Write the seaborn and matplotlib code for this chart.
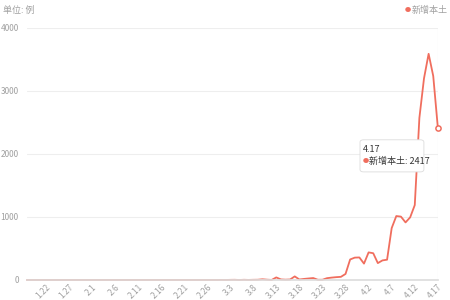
import matplotlib
matplotlib.use("Agg")
import matplotlib.pyplot as plt
import seaborn as sns
import pandas as pd
import datetime as dt
from matplotlib.patches import FancyBboxPatch

# Daily new local cases, 1.18 .. 4.17
values_jan = [0, 0, 0, 0, 0, 0, 0, 0, 0, 0, 0, 0, 0, 0]          # 1.18-1.31
values_feb = [0] * 28                                               # 2.1-2.28
values_mar = [1, 0, 2, 3, 0, 3, 1, 3, 4, 11, 5, 1, 41, 9, 5, 8, 57, 8,
              17, 24, 31, 4, 4, 29, 38, 45, 50, 96, 326, 355, 358]   # 3.1-3.31
values_apr = [260, 438, 425, 268, 311, 322, 824, 1015, 1006, 914, 994,
              1189, 2573, 3200, 3590, 3238, 2417]                   # 4.1-4.17
values = values_jan + values_feb + values_mar + values_apr

start = dt.date(2022, 1, 18)
dates = [start + dt.timedelta(days=i) for i in range(len(values))]
labels = [f"{d.month}.{d.day}" for d in dates]
series_name = "新增本土"
tick_every = 5
tick_offset = 4

df = pd.DataFrame({"idx": range(len(values)), "value": values, "label": labels})

sns.set_theme(style="white")
plt.rcParams['font.family'] = ['Noto Sans CJK SC', 'DejaVu Sans']

red = "#f06e5e"
gray = "#a0a0a0"

fig = plt.figure(figsize=(4.5, 3), dpi=100)
ax = fig.add_axes([0.06, 0.0667, 0.913, 0.84])
sns.lineplot(data=df, x="idx", y="value", ax=ax, color=red, linewidth=1.3)

ax.set_xlim(0, len(values) - 1)
ax.set_ylim(0, 4000)
ax.set_yticks([0, 1000, 2000, 3000, 4000])
ax.set_yticklabels(["0", "1000", "2000", "3000", "4000"])
ticks = list(range(tick_offset, len(values), tick_every))
ax.set_xticks(ticks)
ax.set_xticklabels([labels[i] for i in ticks], rotation=45, ha="right",
                   rotation_mode="anchor")
ax.tick_params(axis="both", labelsize=6, colors=gray, length=0)
ax.tick_params(axis="y", pad=6)
ax.tick_params(axis="x", pad=2)
ax.set_xlabel("")
ax.set_ylabel("")
ax.grid(axis="y", color="#eeeeee", linewidth=0.8)
for s in ["top", "right", "left"]:
    ax.spines[s].set_visible(False)
ax.spines["bottom"].set_color("#dddddd")
for ln in ax.get_lines():
    ln.set_clip_on(False)

# crosshair & highlighted point
last = len(values) - 1
ax.axvline(last, color="#e6e6e6", linewidth=0.8, zorder=0)
ax.scatter([last], [values[-1]], s=14, facecolor="white", edgecolor=red,
           linewidth=1.1, zorder=5, clip_on=False)

# tooltip
box = FancyBboxPatch((0.80, 0.427), 0.142, 0.107, transform=fig.transFigure,
                     boxstyle="round,pad=0,rounding_size=0.008",
                     facecolor="white", edgecolor="#dcdcdc", linewidth=0.6,
                     zorder=10)
fig.add_artist(box)
fig.text(0.807, 0.503, labels[-1], fontsize=6.5, color="#333333",
         va="center", ha="left", zorder=11)
fig.text(0.806, 0.462, "●", fontsize=4.5, color=red, va="center", ha="left",
         zorder=11)
fig.text(0.821, 0.462, f"{series_name}: {values[-1]}", fontsize=6.5,
         color="#333333", va="center", ha="left", zorder=11)

# title & legend
fig.text(0.007, 0.965, "单位: 例", fontsize=6.5, color=gray, va="center")
fig.text(0.9, 0.965, "●", fontsize=4.5, color=red, va="center", ha="left")
fig.text(0.915, 0.965, series_name, fontsize=6.5, color=gray, va="center")

fig.savefig("out.png", dpi=100)
